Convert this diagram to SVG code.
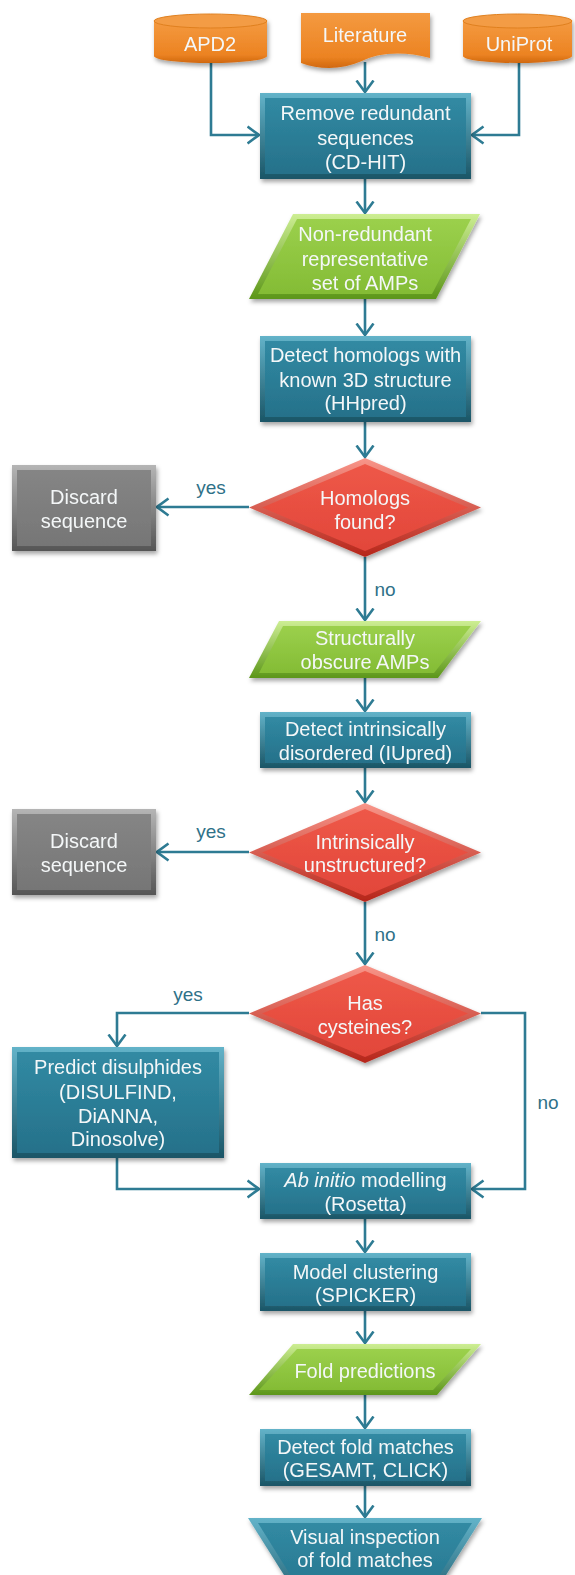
<svg xmlns="http://www.w3.org/2000/svg" width="575" height="1575" viewBox="0 0 575 1575">
<style>
.t{font-family:"Liberation Sans",Arial,sans-serif;font-size:20px;fill:#f4f7f8;text-anchor:middle}
.l{font-family:"Liberation Sans",Arial,sans-serif;font-size:19px;fill:#2f7188;text-anchor:middle}
.c{fill:none;stroke:#2e7b93;stroke-width:2.6;marker-end:url(#ah)}
.sh{filter:url(#ds)}
</style>
<defs>
<marker id="ah" viewBox="0 0 14 20" refX="12.5" refY="10" markerWidth="14" markerHeight="20" markerUnits="userSpaceOnUse" orient="auto">
<path d="M1,1.5 L12.5,10 L1,18.5" fill="none" stroke="#2e7b93" stroke-width="2.6"/>
</marker>
<filter id="ds" x="-10%" y="-10%" width="125%" height="130%">
<feDropShadow dx="1.5" dy="3" stdDeviation="2" flood-color="#000" flood-opacity="0.35"/>
</filter>
<linearGradient id="bF" x1="0" y1="0" x2="0" y2="1"><stop offset="0" stop-color="#63b3c9"/><stop offset="1" stop-color="#1a5566"/></linearGradient>
<linearGradient id="bI" x1="0" y1="0" x2="0" y2="1"><stop offset="0" stop-color="#318aa3"/><stop offset="1" stop-color="#26718a"/></linearGradient>
<linearGradient id="gF" x1="0" y1="0" x2="0" y2="1"><stop offset="0" stop-color="#cdee93"/><stop offset="1" stop-color="#5c9619"/></linearGradient>
<linearGradient id="gI" x1="0" y1="0" x2="0" y2="1"><stop offset="0" stop-color="#9bd04c"/><stop offset="1" stop-color="#84bc35"/></linearGradient>
<linearGradient id="rF" x1="0" y1="0" x2="0" y2="1"><stop offset="0" stop-color="#f9968a"/><stop offset="1" stop-color="#b52519"/></linearGradient>
<linearGradient id="rI" x1="0" y1="0" x2="0" y2="1"><stop offset="0" stop-color="#ee5848"/><stop offset="1" stop-color="#e2463a"/></linearGradient>
<linearGradient id="yF" x1="0" y1="0" x2="0" y2="1"><stop offset="0" stop-color="#b5b5b5"/><stop offset="1" stop-color="#555"/></linearGradient>
<linearGradient id="yI" x1="0" y1="0" x2="0" y2="1"><stop offset="0" stop-color="#858585"/><stop offset="1" stop-color="#767676"/></linearGradient>
<linearGradient id="oB" x1="0" y1="0" x2="0" y2="1"><stop offset="0" stop-color="#f49a40"/><stop offset="0.8" stop-color="#ec8322"/><stop offset="1" stop-color="#d0680f"/></linearGradient>
</defs>

<g id="connectors">
<path class="c" d="M211,63 V135 H259"/>
<path class="c" d="M365,62 V92"/>
<path class="c" d="M519,63 V135 H472"/>
<path class="c" d="M365,179 V213"/>
<path class="c" d="M365,299 V335"/>
<path class="c" d="M365,422 V457"/>
<path class="c" d="M249,507 H157"/>
<path class="c" d="M365,557 V620"/>
<path class="c" d="M365,678 V711"/>
<path class="c" d="M365,768 V802"/>
<path class="c" d="M249,852 H157"/>
<path class="c" d="M365,902 V964"/>
<path class="c" d="M249,1013 H117 V1046"/>
<path class="c" d="M481,1013 H525 V1189 H472"/>
<path class="c" d="M117,1158 V1189 H259"/>
<path class="c" d="M365,1219 V1252"/>
<path class="c" d="M365,1311 V1343"/>
<path class="c" d="M365,1395 V1428"/>
<path class="c" d="M365,1486 V1517"/>
<text class="l" x="211" y="494">yes</text>
<text class="l" x="385" y="596">no</text>
<text class="l" x="211" y="838">yes</text>
<text class="l" x="385" y="941">no</text>
<text class="l" x="188" y="1001">yes</text>
<text class="l" x="548" y="1109">no</text>
</g>

<g id="apd2" class="sh">
<path d="M154,21 V56 A56.5,7 0 0 0 267,56 V21 Z" fill="url(#oB)"/>
<ellipse cx="210.5" cy="21" rx="56.5" ry="7" fill="#f39c45" stroke="#e0801f" stroke-width="1"/>
<text class="t" x="210" y="51">APD2</text>
</g>
<g id="literature" class="sh">
<path d="M301,13 H430 V58 C400,50 376,54 362,61 C342,70 320,70 301,63 Z" fill="url(#oB)"/>
<text class="t" x="365" y="42">Literature</text>
</g>
<g id="uniprot" class="sh">
<path d="M463,21 V56 A54.5,7 0 0 0 572,56 V21 Z" fill="url(#oB)"/>
<ellipse cx="517.5" cy="21" rx="54.5" ry="7" fill="#f39c45" stroke="#e0801f" stroke-width="1"/>
<text class="t" x="519" y="51">UniProt</text>
</g>

<g id="remove" class="sh">
<rect x="260" y="93" width="211" height="86" fill="url(#bF)"/>
<rect x="265" y="98" width="201" height="76" fill="url(#bI)"/>
<text class="t" x="365.5" y="120">Remove redundant</text>
<text class="t" x="365.5" y="145">sequences</text>
<text class="t" x="365.5" y="169">(CD-HIT)</text>
</g>

<g id="nonredundant" class="sh">
<polygon points="293,214 480,214 436,299 249,299" fill="url(#gF)"/>
<polygon points="297,219 471,219 432,294 258,294" fill="url(#gI)"/>
<text class="t" x="365" y="241">Non-redundant</text>
<text class="t" x="365" y="266">representative</text>
<text class="t" x="365" y="290">set of AMPs</text>
</g>

<g id="homologs" class="sh">
<rect x="260" y="336" width="211" height="86" fill="url(#bF)"/>
<rect x="265" y="341" width="201" height="76" fill="url(#bI)"/>
<text class="t" x="365.5" y="362">Detect homologs with</text>
<text class="t" x="365.5" y="387">known 3D structure</text>
<text class="t" x="365.5" y="410">(HHpred)</text>
</g>

<g id="homologs-found" class="sh">
<polygon points="365,458 481,507.5 365,557 249,507.5" fill="url(#rF)"/>
<polygon points="365,464 468,507.5 365,551 262,507.5" fill="url(#rI)"/>
<text class="t" x="365" y="505">Homologs</text>
<text class="t" x="365" y="529">found?</text>
</g>

<g id="discard1" class="sh">
<rect x="12" y="465" width="144" height="86" fill="url(#yF)"/>
<rect x="17" y="470" width="134" height="76" fill="url(#yI)"/>
<text class="t" x="84" y="504">Discard</text>
<text class="t" x="84" y="528">sequence</text>
</g>

<g id="obscure" class="sh">
<polygon points="279,621 481,621 438,678 249,678" fill="url(#gF)"/>
<polygon points="283,626 471,626 434,673 259,673" fill="url(#gI)"/>
<text class="t" x="365" y="645">Structurally</text>
<text class="t" x="365" y="669">obscure AMPs</text>
</g>

<g id="iupred" class="sh">
<rect x="260" y="712" width="211" height="56" fill="url(#bF)"/>
<rect x="265" y="717" width="201" height="46" fill="url(#bI)"/>
<text class="t" x="365.5" y="736">Detect intrinsically</text>
<text class="t" x="365.5" y="760">disordered (IUpred)</text>
</g>

<g id="unstructured" class="sh">
<polygon points="365,803 481,852.5 365,902 249,852.5" fill="url(#rF)"/>
<polygon points="365,809 468,852.5 365,896 262,852.5" fill="url(#rI)"/>
<text class="t" x="365" y="849">Intrinsically</text>
<text class="t" x="365" y="872">unstructured?</text>
</g>

<g id="discard2" class="sh">
<rect x="12" y="809" width="144" height="86" fill="url(#yF)"/>
<rect x="17" y="814" width="134" height="76" fill="url(#yI)"/>
<text class="t" x="84" y="848">Discard</text>
<text class="t" x="84" y="872">sequence</text>
</g>

<g id="cysteines" class="sh">
<polygon points="365,965 481,1013.5 365,1063 249,1013.5" fill="url(#rF)"/>
<polygon points="365,971 468,1013.5 365,1057 262,1013.5" fill="url(#rI)"/>
<text class="t" x="365" y="1010">Has</text>
<text class="t" x="365" y="1034">cysteines?</text>
</g>

<g id="disulphides" class="sh">
<rect x="12" y="1047" width="212" height="111" fill="url(#bF)"/>
<rect x="17" y="1052" width="202" height="101" fill="url(#bI)"/>
<text class="t" x="118" y="1074">Predict disulphides</text>
<text class="t" x="118" y="1099">(DISULFIND,</text>
<text class="t" x="118" y="1123">DiANNA,</text>
<text class="t" x="118" y="1146">Dinosolve)</text>
</g>

<g id="rosetta" class="sh">
<rect x="260" y="1163" width="211" height="56" fill="url(#bF)"/>
<rect x="265" y="1168" width="201" height="46" fill="url(#bI)"/>
<text class="t" x="365.5" y="1187"><tspan font-style="italic">Ab initio</tspan> modelling</text>
<text class="t" x="365.5" y="1211">(Rosetta)</text>
</g>

<g id="spicker" class="sh">
<rect x="260" y="1253" width="211" height="58" fill="url(#bF)"/>
<rect x="265" y="1258" width="201" height="48" fill="url(#bI)"/>
<text class="t" x="365.5" y="1279">Model clustering</text>
<text class="t" x="365.5" y="1302">(SPICKER)</text>
</g>

<g id="fold-predictions" class="sh">
<polygon points="293,1344 481,1344 437,1395 249,1395" fill="url(#gF)"/>
<polygon points="297,1349 471,1349 433,1390 259,1390" fill="url(#gI)"/>
<text class="t" x="365" y="1378">Fold predictions</text>
</g>

<g id="fold-matches" class="sh">
<rect x="260" y="1429" width="211" height="57" fill="url(#bF)"/>
<rect x="265" y="1434" width="201" height="47" fill="url(#bI)"/>
<text class="t" x="365.5" y="1454">Detect fold matches</text>
<text class="t" x="365.5" y="1477">(GESAMT, CLICK)</text>
</g>

<g id="visual-inspection" class="sh">
<polygon points="248,1518 482,1518 424,1610 306,1610" fill="url(#bF)"/>
<polygon points="258,1523 472,1523 418,1610 312,1610" fill="url(#bI)"/>
<text class="t" x="365" y="1544">Visual inspection</text>
<text class="t" x="365" y="1567">of fold matches</text>
</g>
</svg>
